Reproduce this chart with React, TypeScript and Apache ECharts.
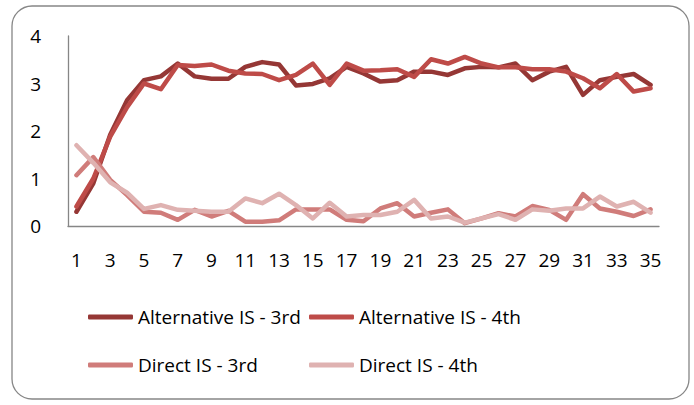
import React, { useEffect, useRef } from "react";
import * as echarts from "echarts";

const categories = Array.from({ length: 35 }, (_, i) => String(i + 1));

const altIS3rd = [0.3, 0.9, 1.92, 2.65, 3.07, 3.15, 3.42, 3.15, 3.1, 3.1, 3.35, 3.45, 3.4, 2.96, 2.99, 3.11, 3.35, 3.21, 3.04, 3.07, 3.25, 3.25, 3.18, 3.32, 3.35, 3.34, 3.42, 3.07, 3.25, 3.35, 2.76, 3.07, 3.14, 3.2, 2.97];
const altIS4th = [0.41, 1.0, 1.88, 2.5, 3.0, 2.88, 3.39, 3.37, 3.4, 3.27, 3.21, 3.2, 3.07, 3.18, 3.42, 2.97, 3.42, 3.27, 3.28, 3.3, 3.14, 3.51, 3.42, 3.56, 3.42, 3.34, 3.34, 3.3, 3.3, 3.25, 3.11, 2.9, 3.2, 2.83, 2.9];
const directIS3rd = [1.07, 1.45, 0.97, 0.65, 0.3, 0.28, 0.13, 0.34, 0.2, 0.32, 0.09, 0.09, 0.12, 0.35, 0.35, 0.35, 0.13, 0.1, 0.37, 0.48, 0.2, 0.28, 0.35, 0.06, 0.16, 0.27, 0.2, 0.42, 0.34, 0.13, 0.67, 0.37, 0.3, 0.21, 0.35];
const directIS4th = [1.7, 1.33, 0.92, 0.7, 0.36, 0.44, 0.34, 0.32, 0.3, 0.3, 0.58, 0.48, 0.68, 0.44, 0.16, 0.49, 0.2, 0.23, 0.23, 0.3, 0.55, 0.16, 0.2, 0.07, 0.16, 0.25, 0.13, 0.35, 0.32, 0.37, 0.37, 0.62, 0.41, 0.51, 0.28];

const seriesNames = ["Alternative IS - 3rd", "Alternative IS - 4th", "Direct IS - 3rd", "Direct IS - 4th"];
const seriesData = [altIS3rd, altIS4th, directIS3rd, directIS4th];
const colors = ["#953735", "#BE4B48", "#D07C7A", "#DFB2B1"];

const FONT = "'Open Sans', 'Liberation Sans', sans-serif";

export default function App() {
  const ref = useRef<HTMLDivElement>(null);
  useEffect(() => {
    document.body.style.margin = "0";
    if (!ref.current) return;
    const chart = echarts.init(ref.current, undefined, { renderer: "svg" });
    const legendPos = [
      { left: 88, top: 307 },
      { left: 309, top: 307 },
      { left: 88, top: 355 },
      { left: 309, top: 355 },
    ];
    chart.setOption({
      animation: false,
      backgroundColor: "#ffffff",
      graphic: [
        {
          type: "rect",
          shape: { x: 12, y: 6, width: 677, height: 393, r: 20 },
          style: { fill: "none", stroke: "#868686", lineWidth: 1.3 },
          silent: true,
        },
      ],
      grid: { left: 68, right: 35, top: 36, bottom: 179 },
      xAxis: {
        type: "category",
        data: categories,
        boundaryGap: true,
        axisLine: { show: true, lineStyle: { color: "#868686", width: 1.3 } },
        axisTick: { show: false },
        axisLabel: {
          interval: 1,
          color: "#000000",
          fontFamily: FONT,
          fontSize: 19,
          margin: 24,
        },
        splitLine: { show: false },
      },
      yAxis: {
        type: "value",
        min: 0,
        max: 4,
        interval: 1,
        axisLine: { show: true, lineStyle: { color: "#868686", width: 1.3 } },
        axisTick: { show: false },
        axisLabel: {
          color: "#000000",
          fontFamily: FONT,
          fontSize: 19,
          margin: 27,
        },
        splitLine: { show: false },
      },
      legend: seriesNames.map((name, i) => ({
        data: [name],
        left: legendPos[i].left,
        top: legendPos[i].top,
        padding: 0,
        icon: "roundRect",
        itemWidth: 45,
        itemHeight: 5,
        itemGap: 0,
        selectedMode: false,
        textStyle: { color: "#000000", fontFamily: FONT, fontSize: 19, lineHeight: 20, padding: [0, 0, 0, 0] },
      })),
      series: seriesNames.map((name, i) => ({
        name,
        type: "line",
        data: seriesData[i],
        symbol: "none",
        smooth: false,
        color: colors[i],
        itemStyle: { color: colors[i] },
        lineStyle: { color: colors[i], width: 4.5, cap: "round", join: "round" },
        emphasis: { disabled: true },
      })),
    });
    return () => chart.dispose();
  }, []);
  return <div ref={ref} style={{ width: 694, height: 405 }} />;
}
